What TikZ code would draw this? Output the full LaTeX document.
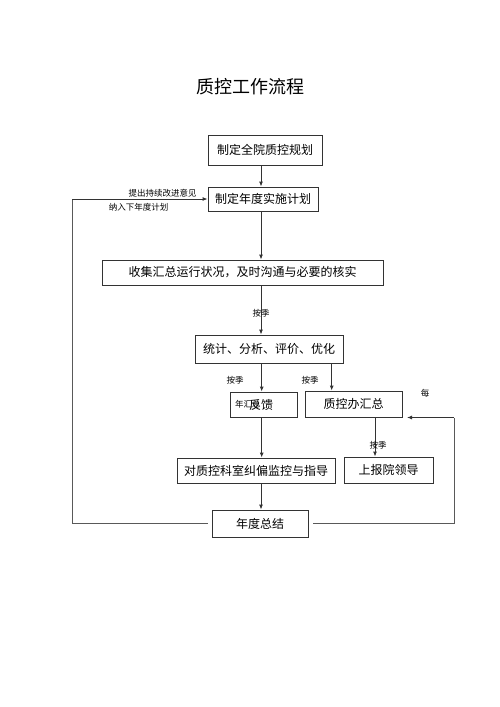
\documentclass[tikz,border=0pt]{standalone}
\usepackage{fontspec}
\setmainfont{Noto Sans CJK SC}
\usetikzlibrary{arrows.meta,calc}
\begin{document}
\begin{tikzpicture}[x=1pt,y=-1pt,
  boxn/.style={draw=black!80,line width=0.9pt,inner sep=0pt,anchor=center,
    font=\fontsize{12}{14}\selectfont},
  lbl/.style={inner sep=0pt,font=\fontsize{8.5}{10}\selectfont},
  arr/.style={draw=black!80,line width=0.9pt,-{Latex[length=5pt,width=4pt]}},
  ln/.style={draw=black!65,line width=0.9pt}]
\path[fill=white] (0,0) rectangle (500,707);
\useasboundingbox (0,0) rectangle (500,707);
\node[inner sep=0pt,font=\fontsize{18}{20}\selectfont] (title) at (250,87) {质控工作流程};
\node[boxn,minimum width=114pt,minimum height=30pt] (b1) at (265,150) {制定全院质控规划};
\node[boxn,minimum width=110pt,minimum height=24pt] (b2) at (263,199) {制定年度实施计划};
\node[boxn,minimum width=281pt,minimum height=25pt] (b3) at (242.5,272.5) {收集汇总运行状况，及时沟通与必要的核实};
\node[boxn,minimum width=148pt,minimum height=28pt] (b4) at (269,349) {统计、分析、评价、优化};
\node[boxn,minimum width=67pt,minimum height=25pt] (b5) at (263.5,404.5) {};
\node[lbl,anchor=west] (t5a) at (235,404.5) {年汇总};
\node[inner sep=0pt,anchor=west,font=\fontsize{12}{14}\selectfont] (t5b) at (249,404.5) {反馈};
\node[boxn,minimum width=97pt,minimum height=26pt] (b6) at (353.5,404) {质控办汇总};
\node[boxn,minimum width=158pt,minimum height=25pt] (b7) at (256,470.5) {对质控科室纠偏监控与指导};
\node[boxn,minimum width=89pt,minimum height=26pt] (b8) at (388.5,470) {上报院领导};
\node[boxn,minimum width=96pt,minimum height=27pt] (b9) at (260,523.5) {年度总结};
\coordinate (c1) at (261,0);
\coordinate (c2) at (261.7,0);
\coordinate (c3) at (331.7,0);
\coordinate (c4) at (375,0);
\coordinate (rt) at (454,0);
\coordinate (lf) at (72,0);
\coordinate (tip) at (407,417.5);
\draw[arr] (b1.south -| c1) -- (b2.north -| c1);
\draw[arr] (b2.south -| c1) -- (b3.north -| c1);
\draw[arr] (b3.south -| c1) -- (b4.north -| c1);
\draw[arr] (b4.south -| c2) -- (b5.north -| c2);
\draw[arr] (b4.south -| c3) -- (b6.north -| c3);
\draw[arr] (b6.south -| c4) -- (b8.north -| c4);
\draw[arr] (b5.south -| c2) -- (b7.north -| c2);
\draw[arr] (b7.south -| c1) -- (b9.north -| c1);
\draw[ln] ([xshift=5pt]b9.east) -- (b9.east -| rt) -- (tip -| rt);
\draw[arr] (tip -| rt) -- (tip);
\draw[ln] ([xshift=-4pt]b9.west) -- (b9.west -| lf) -- (b2.west -| lf);
\draw[arr] (b2.west -| lf) -- (b2.west);
\node[lbl] (l1) at (162.5,193) {提出持续改进意见};
\node[lbl] (l2) at (138.5,207) {纳入下年度计划};
\node[lbl] (l3) at (261,313) {按季};
\node[lbl] (l4) at (235,380) {按季};
\node[lbl] (l5) at (310,380) {按季};
\node[lbl] (l6) at (425,393) {每};
\node[lbl] (l7) at (378,445) {按季};
\end{tikzpicture}
\end{document}
